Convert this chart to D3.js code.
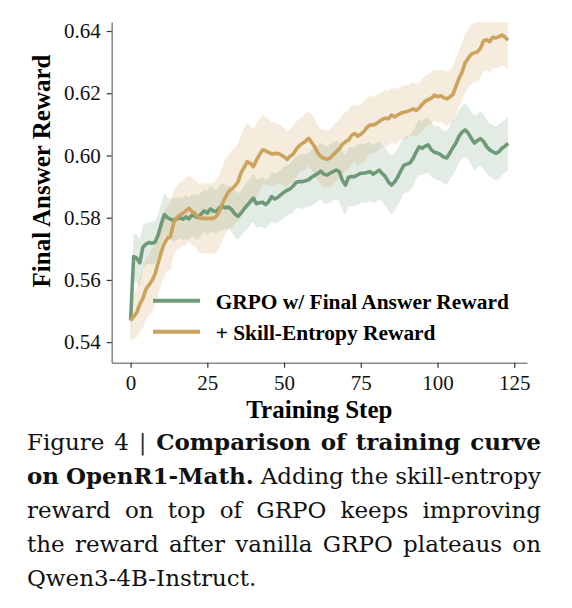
<!DOCTYPE html>
<html>
<head>
<meta charset="utf-8">
<script src="https://cdn.jsdelivr.net/npm/d3@7"></script>
<style>
  body { margin: 0; background: #fff; }
  svg text { font-family: "Liberation Serif", "Times New Roman", serif; }
</style>
</head>
<body>
<div id="chart"></div>
<script>
// training steps 0..123
var steps = d3.range(0, 124);

var grpo = [
  0.5470,0.5675,0.5670,0.5655,0.5705,0.5715,0.5720,0.5718,0.5722,0.5745,
  0.5780,0.5810,0.5800,0.5795,0.5792,0.5796,0.5800,0.5795,0.5803,0.5796,
  0.5808,0.5805,0.5800,0.5812,0.5822,0.5815,0.5828,0.5822,0.5820,0.5832,
  0.5836,0.5832,0.5834,0.5825,0.5812,0.5804,0.5815,0.5828,0.5840,0.5852,
  0.5863,0.5845,0.5848,0.5850,0.5842,0.5852,0.5868,0.5860,0.5866,0.5874,
  0.5882,0.5888,0.5893,0.5902,0.5914,0.5916,0.5916,0.5919,0.5922,0.5930,
  0.5936,0.5942,0.5950,0.5940,0.5937,0.5943,0.5948,0.5953,0.5948,0.5920,
  0.5905,0.5930,0.5932,0.5932,0.5938,0.5943,0.5943,0.5945,0.5948,0.5940,
  0.5946,0.5953,0.5942,0.5932,0.5915,0.5905,0.5915,0.5930,0.5950,0.5968,
  0.5972,0.5976,0.5990,0.6010,0.6028,0.6023,0.6030,0.6034,0.6018,0.6010,
  0.6008,0.6003,0.5995,0.5992,0.6008,0.6025,0.6040,0.6062,0.6075,0.6082,
  0.6072,0.6055,0.6040,0.6048,0.6054,0.6045,0.6028,0.6018,0.6012,0.6007,
  0.6012,0.6023,0.6030,0.6039
];
var grpoStd = [
  0.0060,0.0075,0.0078,0.0074,0.0070,0.0068,0.0066,0.0070,0.0068,0.0066,
  0.0065,0.0068,0.0064,0.0066,0.0070,0.0067,0.0065,0.0069,0.0071,0.0068,
  0.0066,0.0070,0.0072,0.0069,0.0067,0.0071,0.0073,0.0070,0.0068,0.0072,
  0.0074,0.0071,0.0069,0.0073,0.0076,0.0074,0.0072,0.0075,0.0077,0.0074,
  0.0076,0.0079,0.0077,0.0080,0.0078,0.0076,0.0080,0.0082,0.0079,0.0081,
  0.0083,0.0080,0.0082,0.0085,0.0083,0.0086,0.0088,0.0085,0.0087,0.0090,
  0.0092,0.0089,0.0091,0.0094,0.0092,0.0095,0.0093,0.0096,0.0094,0.0097,
  0.0095,0.0093,0.0096,0.0094,0.0097,0.0095,0.0093,0.0096,0.0094,0.0092,
  0.0095,0.0093,0.0091,0.0094,0.0092,0.0095,0.0093,0.0090,0.0092,0.0089,
  0.0091,0.0088,0.0090,0.0087,0.0089,0.0086,0.0088,0.0090,0.0087,0.0085,
  0.0088,0.0086,0.0084,0.0087,0.0085,0.0088,0.0086,0.0083,0.0085,0.0087,
  0.0084,0.0086,0.0088,0.0085,0.0087,0.0089,0.0086,0.0084,0.0087,0.0085,
  0.0088,0.0086,0.0084,0.0087
];

var skill = [
  0.5469,0.5482,0.5495,0.5522,0.5540,0.5570,0.5584,0.5598,0.5620,0.5655,
  0.5690,0.5718,0.5734,0.5740,0.5782,0.5800,0.5808,0.5814,0.5822,0.5830,
  0.5820,0.5814,0.5802,0.5798,0.5798,0.5797,0.5798,0.5798,0.5805,0.5822,
  0.5848,0.5868,0.5885,0.5893,0.5902,0.5915,0.5945,0.5962,0.5980,0.5975,
  0.5964,0.5985,0.6002,0.6018,0.6015,0.6010,0.6005,0.6006,0.6007,0.6002,
  0.5996,0.5987,0.5998,0.6005,0.6020,0.6032,0.6039,0.6046,0.6055,0.6042,
  0.6028,0.6008,0.5996,0.5991,0.5988,0.5992,0.6002,0.6012,0.6022,0.6036,
  0.6044,0.6050,0.6064,0.6071,0.6062,0.6068,0.6077,0.6090,0.6098,0.6098,
  0.6102,0.6109,0.6116,0.6120,0.6118,0.6130,0.6124,0.6130,0.6136,0.6139,
  0.6141,0.6145,0.6150,0.6145,0.6152,0.6164,0.6174,0.6180,0.6184,0.6194,
  0.6189,0.6192,0.6186,0.6182,0.6188,0.6196,0.6222,0.6248,0.6268,0.6298,
  0.6312,0.6326,0.6330,0.6333,0.6345,0.6368,0.6372,0.6366,0.6380,0.6378,
  0.6382,0.6387,0.6380,0.6371
];
var skillStd = [
  0.0065,0.0072,0.0080,0.0088,0.0094,0.0100,0.0098,0.0103,0.0100,0.0105,
  0.0102,0.0106,0.0103,0.0108,0.0105,0.0102,0.0106,0.0104,0.0108,0.0105,
  0.0109,0.0106,0.0110,0.0113,0.0110,0.0114,0.0112,0.0115,0.0118,0.0115,
  0.0119,0.0122,0.0120,0.0124,0.0121,0.0125,0.0122,0.0126,0.0123,0.0120,
  0.0122,0.0118,0.0115,0.0112,0.0109,0.0106,0.0103,0.0100,0.0097,0.0095,
  0.0093,0.0090,0.0088,0.0091,0.0089,0.0086,0.0088,0.0090,0.0087,0.0089,
  0.0091,0.0088,0.0090,0.0093,0.0091,0.0094,0.0092,0.0095,0.0093,0.0096,
  0.0094,0.0097,0.0095,0.0093,0.0096,0.0094,0.0097,0.0095,0.0093,0.0091,
  0.0093,0.0090,0.0088,0.0091,0.0089,0.0087,0.0090,0.0088,0.0085,0.0087,
  0.0085,0.0083,0.0086,0.0084,0.0082,0.0085,0.0083,0.0081,0.0084,0.0082,
  0.0085,0.0083,0.0086,0.0088,0.0086,0.0089,0.0092,0.0090,0.0093,0.0096,
  0.0094,0.0097,0.0095,0.0098,0.0096,0.0099,0.0097,0.0100,0.0098,0.0096,
  0.0099,0.0097,0.0095,0.0098
];

var xTicks = [0, 25, 50, 75, 100, 125];
var yTicks = [0.54, 0.56, 0.58, 0.60, 0.62, 0.64];
var seriesNames = ["GRPO w/ Final Answer Reward", "+ Skill-Entropy Reward"];
var seriesColors = ["#6f9a78", "#cca25c"];

var captionLines = [
  [["Figure", 0], ["4", 0], ["|", 0], ["Comparison", 1], ["of", 1], ["training", 1], ["curve", 1]],
  [["on", 1], ["OpenR1-Math.", 1], ["Adding", 0], ["the", 0], ["skill-entropy", 0]],
  [["reward", 0], ["on", 0], ["top", 0], ["of", 0], ["GRPO", 0], ["keeps", 0], ["improving", 0]],
  [["the", 0], ["reward", 0], ["after", 0], ["vanilla", 0], ["GRPO", 0], ["plateaus", 0], ["on", 0]],
  [["Qwen3-4B-Instruct.", 0]]
];

var W = 572, H = 608;
var margin = {top: 22, left: 111.7},
    width = 527 - margin.left,
    height = 362.7 - margin.top;

var svg = d3.select("#chart")
  .append("svg")
  .attr("width", W)
  .attr("height", H);

var canvas = svg.append("g")
  .attr("transform", "translate(" + margin.left + "," + margin.top + ")");

var x = d3.scaleLinear().domain([-6.15, 129.15]).range([0, width]);
var y = d3.scaleLinear().domain([0.5334, 0.6429]).range([height, 0]);

canvas.append("clipPath").attr("id", "clip")
  .append("rect").attr("width", width).attr("height", height);

var plot = canvas.append("g").attr("clip-path", "url(#clip)");

var series = [
  {mean: grpo, std: grpoStd, color: seriesColors[0]},
  {mean: skill, std: skillStd, color: seriesColors[1]}
];

var area = d3.area()
  .x(function(d) { return x(d.s); })
  .y0(function(d) { return y(d.m - d.sd); })
  .y1(function(d) { return y(d.m + d.sd); });

var line = d3.line()
  .x(function(d) { return x(d.s); })
  .y(function(d) { return y(d.m); });

series.forEach(function(sr) {
  sr.pts = steps.map(function(s, i) { return {s: s, m: sr.mean[i], sd: sr.std[i]}; });
  plot.append("path").datum(sr.pts)
    .attr("d", area)
    .attr("fill", sr.color)
    .attr("fill-opacity", 0.2);
});

series.forEach(function(sr) {
  plot.append("path").datum(sr.pts)
    .attr("d", line)
    .attr("fill", "none")
    .attr("stroke", sr.color)
    .attr("stroke-width", 3.6)
    .attr("stroke-linejoin", "round");
});

// axes
var xAxis = canvas.append("g")
  .attr("transform", "translate(0," + height + ")")
  .call(d3.axisBottom(x).tickValues(xTicks).tickSize(5).tickPadding(7).tickSizeOuter(0));

var yAxis = canvas.append("g")
  .call(d3.axisLeft(y).tickValues(yTicks).tickFormat(d3.format(".2f")).tickSize(5).tickPadding(6).tickSizeOuter(0));

[xAxis, yAxis].forEach(function(ax) {
  ax.attr("font-family", null).attr("font-size", null);
  ax.select(".domain").attr("stroke", "#8a8a8a").attr("stroke-width", 1.6);
  ax.selectAll(".tick line").attr("stroke", "#333").attr("stroke-width", 1.2);
  ax.selectAll(".tick text")
    .attr("fill", "#111")
    .style("font-family", "'Liberation Serif', serif")
    .style("font-size", "21px");
});

canvas.append("text")
  .attr("x", width / 2)
  .attr("y", 418 - margin.top)
  .attr("text-anchor", "middle")
  .style("font-size", "25px")
  .style("font-weight", "bold")
  .text("Training Step");

canvas.append("text")
  .attr("transform", "translate(" + (50 - margin.left) + "," + (171 - margin.top) + ")rotate(-90)")
  .attr("text-anchor", "middle")
  .style("font-size", "25px")
  .style("font-weight", "bold")
  .text("Final Answer Reward");

// legend
var legend = svg.append("g");
seriesNames.forEach(function(name, i) {
  var ly = 300.7 + i * 31;
  legend.append("line")
    .attr("x1", 153).attr("x2", 200)
    .attr("y1", ly).attr("y2", ly)
    .attr("stroke", seriesColors[i])
    .attr("stroke-width", 4);
  legend.append("text")
    .attr("x", 215.7)
    .attr("y", ly + 7.8)
    .style("font-size", "21.4px")
    .style("font-weight", "bold")
    .text(name);
});

// caption, justified line by line
var capLeft = 27, capRight = 541;
var capBase = [449.5, 483.5, 517.5, 551.5, 585.5];
var cap = svg.append("g");

captionLines.forEach(function(words, li) {
  var nodes = words.map(function(w) {
    return cap.append("text")
      .attr("y", capBase[li])
      .attr("fill", w[0] === "|" ? "#333" : "#111")
      .style("font-family", "'DejaVu Serif', serif")
      .style("font-size", "23px")
      .style("font-weight", w[1] ? "bold" : "normal")
      .text(w[0]);
  });
  var widths = nodes.map(function(n) { return n.node().getComputedTextLength(); });
  var total = d3.sum(widths);
  var last = li === captionLines.length - 1 || words.length < 2;
  var gap = last ? 7.3 : (capRight - capLeft - total) / (words.length - 1);
  var cx = capLeft;
  nodes.forEach(function(n, i) {
    n.attr("x", cx);
    cx += widths[i] + gap;
  });
});
</script>
</body>
</html>
